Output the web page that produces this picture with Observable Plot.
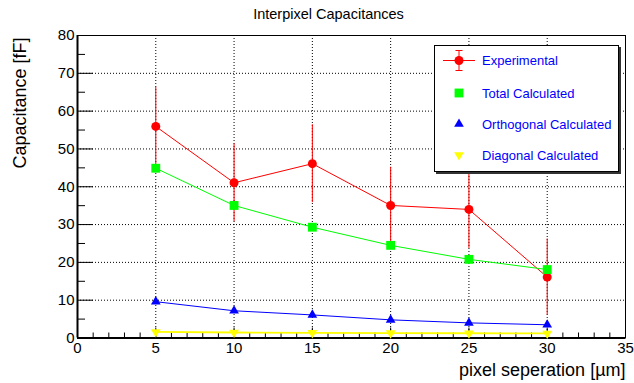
<!DOCTYPE html>
<html>
<head>
<meta charset="utf-8">
<script src="https://cdn.jsdelivr.net/npm/d3@7"></script>
<script src="https://cdn.jsdelivr.net/npm/@observablehq/plot@0.6"></script>
<style>
  html, body { margin: 0; padding: 0; background: #fff; }
  body { font-family: "Liberation Sans", Arial, Helvetica, sans-serif; }
  #wrap { position: relative; width: 634px; height: 383px; overflow: hidden; }
  #legend { position: absolute; left: 434px; top: 45px; width: 185px; height: 127px;
            box-sizing: border-box; border: 1px solid #000; background: #fff;
            box-shadow: 2px 2px 0 #333; }
  #legend svg { position: absolute; left: 0; top: 0; overflow: visible; }
</style>
</head>
<body>
<div id="wrap"></div>
<script>
// ---- data ----
const separation = [5, 10, 15, 20, 25, 30];
const experimental = [55.95, 41.05, 46.1, 35.05, 34.0, 16.1];
const experimentalErr = [10.3, 10.3, 10.3, 10.1, 10.3, 10.1];
const totalCalculated = [44.9, 35.05, 29.3, 24.5, 20.8, 18.1];
const orthogonalCalculated = [9.6, 7.2, 6.1, 4.8, 4.0, 3.5];
const diagonalCalculated = [1.6, 1.45, 1.35, 1.3, 1.25, 1.2];

const xMajorTicks = [0, 5, 10, 15, 20, 25, 30, 35];
const xMinorTicks = [0,1,2,3,4,5,6,7,8,9,10,11,12,13,14,15,16,17,18,19,20,21,22,23,24,25,26,27,28,29,30,31,32,33,34,35];
const yMajorTicks = [0, 10, 20, 30, 40, 50, 60, 70, 80];
const yMinorTicks = [5, 15, 25, 35, 45, 55, 65, 75];
const xGrid = [5, 10, 15, 20, 25, 30];
const yGrid = [10, 20, 30, 40, 50, 60, 70];

const titleText = "Interpixel Capacitances";
const xLabel = "pixel seperation [µm]";
const yLabel = "Capacitance [fF]";

const seriesNames = ["Experimental", "Total Calculated", "Orthogonal Calculated", "Diagonal Calculated"];
const seriesColors = ["#ff0000", "#00ff00", "#0000ff", "#ffff00"];

// ---- tables ----
const expData = separation.map((x, i) => ({x, y: experimental[i], e: experimentalErr[i]}));
const totData = separation.map((x, i) => ({x, y: totalCalculated[i]}));
const ortData = separation.map((x, i) => ({x, y: orthogonalCalculated[i]}));
const diaData = separation.map((x, i) => ({x, y: diagonalCalculated[i]}));

const dotted = {stroke: "#000", strokeOpacity: 1, strokeWidth: 1, strokeDasharray: "1,2"};
const noText = () => "";

const chart = Plot.plot({
  width: 634,
  height: 383,
  marginLeft: 77,
  marginRight: 9,
  marginTop: 35,
  marginBottom: 45.5,
  x: {domain: [0, 35]},
  y: {domain: [0, 80]},
  style: {fontFamily: "'Liberation Sans', Arial, Helvetica, sans-serif", background: "#fff", color: "#000", overflow: "visible"},
  marks: [
    Plot.gridX(xGrid, dotted),
    Plot.gridY(yGrid, dotted),
    Plot.axisX(xMinorTicks, {tickSize: -5, tickFormat: noText, label: null, strokeWidth: 1}),
    Plot.axisX(xMajorTicks, {tickSize: -10, tickFormat: noText, label: null, strokeWidth: 1}),
    Plot.axisX(xMajorTicks, {tickSize: 0, tickPadding: 4, fontSize: 15, label: null}),
    Plot.axisY(yMinorTicks, {tickSize: -8, tickFormat: noText, label: null, strokeWidth: 1}),
    Plot.axisY(yMajorTicks, {tickSize: -16, tickFormat: noText, label: null, strokeWidth: 1}),
    Plot.axisY(yMajorTicks, {tickSize: 0, tickPadding: 3, fontSize: 15, label: null}),
    Plot.frame({stroke: "#000", strokeWidth: 1}),
    Plot.ruleX([0], {stroke: "#000", strokeWidth: 2}),
    Plot.ruleY([0], {stroke: "#000", strokeWidth: 2}),
    // experimental
    Plot.ruleX(expData, {x: "x", y1: d => d.y - d.e, y2: d => d.y + d.e, stroke: seriesColors[0], strokeWidth: 1}),
    Plot.line(expData, {x: "x", y: "y", stroke: seriesColors[0], strokeWidth: 1}),
    Plot.dot(expData, {x: "x", y: "y", r: 4.5, fill: seriesColors[0], stroke: null, symbol: "circle"}),
    // total
    Plot.line(totData, {x: "x", y: "y", stroke: seriesColors[1], strokeWidth: 1}),
    Plot.dot(totData, {x: "x", y: "y", r: 5, fill: seriesColors[1], stroke: null, symbol: "square"}),
    // orthogonal
    Plot.line(ortData, {x: "x", y: "y", stroke: seriesColors[2], strokeWidth: 1}),
    Plot.dot(ortData, {x: "x", y: "y", r: 3.6, fill: seriesColors[2], stroke: null, symbol: "triangle"}),
    // diagonal
    Plot.line(diaData, {x: "x", y: "y", stroke: seriesColors[3], strokeWidth: 1.8}),
    Plot.dot(diaData, {x: "x", y: "y", r: 3.6, fill: seriesColors[3], stroke: null, symbol: "triangle", rotate: 180}),
    // texts
    Plot.text([titleText], {frameAnchor: "top", lineAnchor: "middle", dx: -23, dy: -21, fontSize: 14.5, fill: "#000"}),
    Plot.text([xLabel], {frameAnchor: "bottom-right", lineAnchor: "middle", textAnchor: "end", dy: 32, fontSize: 18, fill: "#000"}),
    Plot.text([yLabel], {frameAnchor: "top-left", lineAnchor: "middle", rotate: -90, textAnchor: "end", dx: -57, dy: 2, fontSize: 18, fill: "#000"})
  ]
});

const wrap = document.getElementById("wrap");
wrap.appendChild(chart);

// ---- legend ----
const legend = document.createElement("div");
legend.id = "legend";
wrap.appendChild(legend);
const lsvg = d3.select(legend).append("svg").attr("width", 185).attr("height", 127);
const rowY = [14.5, 47, 78, 109];
const mx = 24;
// experimental entry: horizontal line, error bar with caps, circle
lsvg.append("line").attr("x1", 8).attr("x2", 40).attr("y1", rowY[0]).attr("y2", rowY[0]).attr("stroke", seriesColors[0]).attr("stroke-width", 1);
lsvg.append("line").attr("x1", mx).attr("x2", mx).attr("y1", rowY[0] - 10).attr("y2", rowY[0] + 10).attr("stroke", seriesColors[0]).attr("stroke-width", 1);
lsvg.append("line").attr("x1", mx - 3.5).attr("x2", mx + 3.5).attr("y1", rowY[0] - 10).attr("y2", rowY[0] - 10).attr("stroke", seriesColors[0]).attr("stroke-width", 1);
lsvg.append("line").attr("x1", mx - 3.5).attr("x2", mx + 3.5).attr("y1", rowY[0] + 10).attr("y2", rowY[0] + 10).attr("stroke", seriesColors[0]).attr("stroke-width", 1);
const symbols = [d3.symbolCircle, d3.symbolSquare, d3.symbolTriangle, d3.symbolTriangle];
const radii = [4.5, 5, 3.6, 3.6];
const rot = [0, 0, 0, 180];
seriesNames.forEach((name, i) => {
  lsvg.append("path")
    .attr("d", d3.symbol(symbols[i], Math.PI * radii[i] * radii[i])())
    .attr("transform", `translate(${mx},${rowY[i]}) rotate(${rot[i]})`)
    .attr("fill", seriesColors[i]);
  lsvg.append("text")
    .attr("x", 47).attr("y", rowY[i]).attr("dy", "0.35em")
    .attr("font-size", 13).attr("fill", "#0000ff")
    .attr("font-family", "'Liberation Sans', Arial, Helvetica, sans-serif")
    .text(name);
});
</script>
</body>
</html>
